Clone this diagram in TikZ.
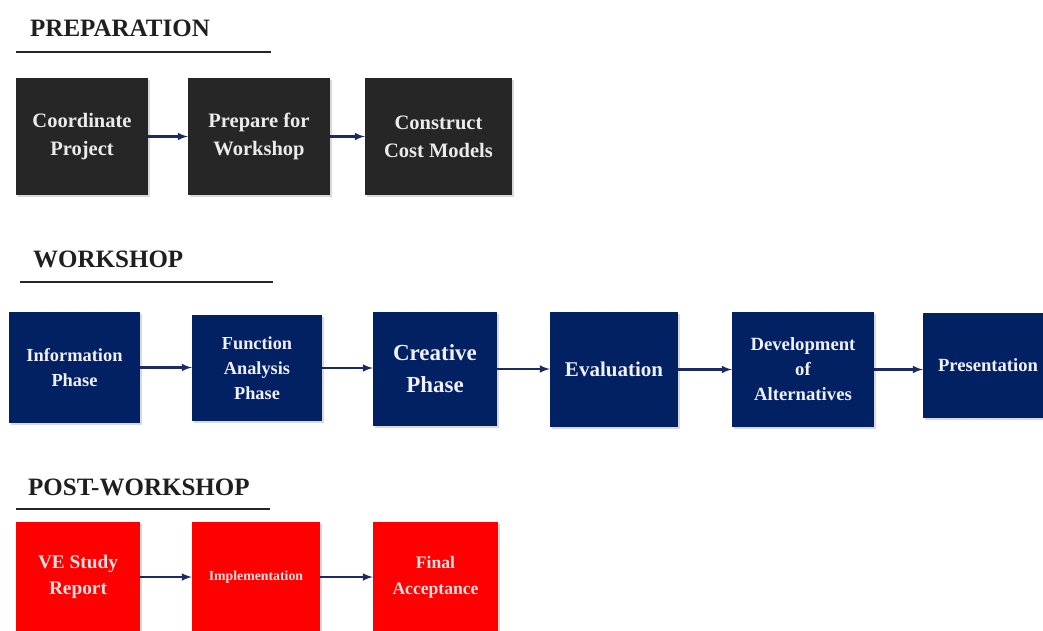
\documentclass[tikz,border=0pt]{standalone}
\usepackage{fontspec}
\setmainfont{Liberation Serif}
\usepackage{tikz}
\usetikzlibrary{arrows}
\usetikzlibrary{shadows}
\definecolor{prepgray}{HTML}{262626}
\definecolor{worknavy}{HTML}{022163}
\definecolor{postred}{HTML}{FF0000}
\definecolor{linknavy}{HTML}{1C2A62}

\begin{document}
\begin{tikzpicture}[x=1pt,y=-1pt,
		box/.style={inner sep=0pt,align=center,drop shadow={opacity=0.3,shadow xshift=2pt,shadow yshift=-2pt}},
		prepbox/.style={box,fill=prepgray,text=black!8},
		workbox/.style={box,fill=worknavy,text=blue!6},
		postbox/.style={box,fill=postred,text=red!12},
		heading/.style={anchor=base west,inner sep=0pt,text=black!88,font=\fontsize{25}{30}\selectfont\bfseries},
		link/.style={-latex,linknavy,line width=2.4pt}]
			\useasboundingbox (0,0) rectangle (1043,631);
			% preparation
			\node[heading] (prep) at (30,37) {PREPARATION};
			\draw[line width=1.8pt,black!85] (16,52) -- (271,52);
			\node[prepbox,minimum width=132pt,minimum height=117pt,font=\fontsize{20.5}{28}\selectfont\bfseries] (coord) at (82,136.5) {Coordinate\\Project};
			\node[prepbox,minimum width=142pt,minimum height=117pt,font=\fontsize{20.5}{28}\selectfont\bfseries] (prepare) at (259,136.5) {Prepare for\\Workshop};
			\node[prepbox,minimum width=147pt,minimum height=117pt,font=\fontsize{20.5}{28}\selectfont\bfseries] (cost) at (438.5,136.5) {Construct\\Cost Models};
			\draw[link] (coord.east) -- (prepare.west);
			\draw[link] (prepare.east) -- (cost.west);
			% workshop
			\node[heading] (work) at (33,267) {WORKSHOP};
			\draw[line width=1.8pt,black!85] (20,282) -- (273,282);
			\node[workbox,minimum width=131pt,minimum height=111pt,font=\fontsize{18.4}{25}\selectfont\bfseries] (info) at (74.5,367.5) {Information\\Phase};
			\node[workbox,minimum width=130pt,minimum height=106pt,font=\fontsize{18.3}{25}\selectfont\bfseries] (func) at (257,368) {Function\\Analysis\\Phase};
			\node[workbox,minimum width=124pt,minimum height=114pt,font=\fontsize{23}{32}\selectfont\bfseries] (creat) at (435,369) {Creative\\Phase};
			\node[workbox,minimum width=128pt,minimum height=115pt,font=\fontsize{21}{28}\selectfont\bfseries] (eval) at (614,369.5) {Evaluation};
			\node[workbox,minimum width=142pt,minimum height=115pt,font=\fontsize{18.7}{25}\selectfont\bfseries] (devel) at (803,369.5) {Development\\of\\Alternatives};
			\node[workbox,minimum width=130pt,minimum height=105pt,font=\fontsize{18.6}{25}\selectfont\bfseries] (pres) at (988,365.5) {Presentation};
			\draw[link] (info.east) -- (func.west |- info.east);
			\draw[link] (func.east) -- (creat.west |- func.east);
			\draw[link] (creat.east) -- (eval.west |- creat.east);
			\draw[link] (eval.east) -- (devel.west |- eval.east);
			\draw[link] (devel.east) -- (pres.west |- devel.east);
			% post-workshop
			\node[heading] (post) at (28,495) {POST-WORKSHOP};
			\draw[line width=1.8pt,black!85] (16,509) -- (270,509);
			\node[postbox,minimum width=124pt,minimum height=110pt,font=\fontsize{19.3}{26}\selectfont\bfseries] (report) at (78,577) {VE Study\\Report};
			\node[postbox,minimum width=128pt,minimum height=110pt,font=\fontsize{13.8}{18}\selectfont\bfseries] (impl) at (256,577) {Implementation};
			\node[postbox,minimum width=125pt,minimum height=110pt,font=\fontsize{17.6}{26}\selectfont\bfseries] (accept) at (435.5,577) {Final\\Acceptance};
			\draw[link] (report.east) -- (impl.west);
			\draw[link] (impl.east) -- (accept.west);
		\end{tikzpicture}
\end{document}
